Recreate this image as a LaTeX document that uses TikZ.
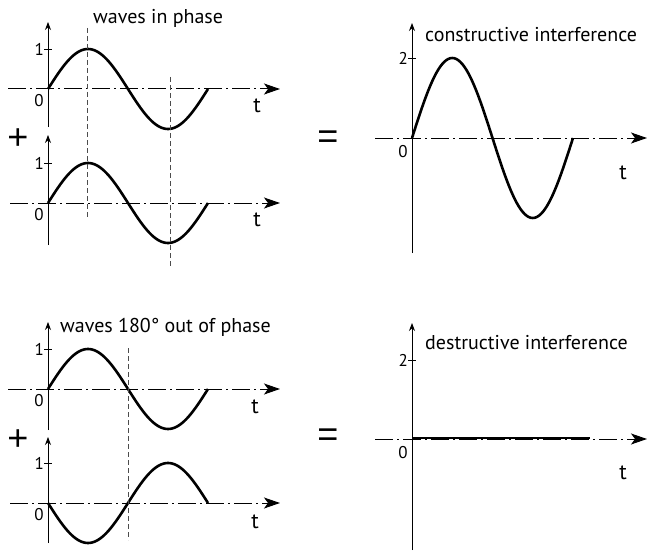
\documentclass[tikz,border=0pt]{standalone}
\usepackage{fontspec}
\setmainfont{PT Sans}
\newfontfamily\opfont{Liberation Sans}
\usetikzlibrary{arrows.meta}
\tikzset{
  haxis/.style={line width=1pt, dash pattern=on 18pt off 4pt on 2pt off 4pt, -{Stealth[length=16pt,width=11pt,inset=4pt]}},
  vaxis/.style={line width=0.8pt, -{Stealth[length=8pt,width=6pt]}},
  wave/.style={line width=2.6pt, line cap=butt},
  guide/.style={line width=0.7pt, dash pattern=on 5pt off 3pt, black!70},
  tick/.style={line width=0.8pt},
  lbl/.style={font=\fontsize{17}{17}\selectfont, inner sep=0pt},
  tlbl/.style={font=\fontsize{22}{22}\selectfont, inner sep=0pt},
  title/.style={font=\fontsize{20}{20}\selectfont, inner sep=0pt, anchor=west},
  op/.style={font=\opfont\fontsize{36}{36}\selectfont, inner sep=0pt},
}
\begin{document}
\begin{tikzpicture}[x=1pt,y=-1pt]
\useasboundingbox (0,0) rectangle (651,551);

% ---------- panel 1 (top-left, upper) ----------
\begin{scope}[shift={(48,89)}]
  \coordinate (a1s) at (-40,0); \coordinate (a1e) at (232,0);
  \coordinate (b1s) at (0,38);  \coordinate (b1e) at (0,-67);
  \coordinate (k1s) at (-4,-40); \coordinate (k1e) at (4,-40);
  \draw[vaxis] (b1s) -- (b1e);
  \draw[haxis] (a1s) -- (a1e);
  \draw[tick] (k1s) -- (k1e);
  \node[lbl, anchor=east] (one1) at (-4,-40) {1};
  \node[lbl] (zero1) at (-9,12) {0};
  \node[tlbl] (t1) at (209,17) {t};
  \draw[wave] plot[domain=0:160,samples=81] (\x,{-40*sin(\x*2.25)});
\end{scope}

% ---------- panel 2 (top-left, lower) ----------
\begin{scope}[shift={(48,203)}]
  \coordinate (a2s) at (-38,0); \coordinate (a2e) at (232,0);
  \coordinate (b2s) at (0,42);  \coordinate (b2e) at (0,-68);
  \coordinate (k2s) at (-4,-40); \coordinate (k2e) at (4,-40);
  \draw[vaxis] (b2s) -- (b2e);
  \draw[haxis] (a2s) -- (a2e);
  \draw[tick] (k2s) -- (k2e);
  \node[lbl, anchor=east] (one2) at (-4,-40) {1};
  \node[lbl] (zero2) at (-9,12) {0};
  \node[tlbl] (t2) at (209,17) {t};
  \draw[wave] plot[domain=0:160,samples=81] (\x,{-40*sin(\x*2.25)});
\end{scope}

% guides, in phase
\coordinate (g1s) at (87,28);  \coordinate (g1e) at (87,218);
\coordinate (g2s) at (170,77); \coordinate (g2e) at (170,267);
\draw[guide] (g1s) -- (g1e);
\draw[guide] (g2s) -- (g2e);

\node[title] (tin) at (93,18) {waves in phase};
\node[op] (plus1) at (18,139) {+};
\node[op] (eq1) at (328,140) {=};

% ---------- panel 3 (constructive) ----------
\begin{scope}[shift={(412,138)}]
  \coordinate (a3s) at (-37,0); \coordinate (a3e) at (235,0);
  \coordinate (b3s) at (0,115);  \coordinate (b3e) at (0,-115);
  \coordinate (k3s) at (-4,-80); \coordinate (k3e) at (4,-80);
  \draw[vaxis] (b3s) -- (b3e);
  \draw[haxis] (a3s) -- (a3e);
  \draw[tick] (k3s) -- (k3e);
  \node[lbl, anchor=east] (two3) at (-4,-80) {2};
  \node[lbl] (zero3) at (-9,14) {0};
  \node[tlbl] (t3) at (211,35) {t};
  \draw[wave] plot[domain=0:161,samples=81] (\x,{-80*sin(\x*2.2360)});
\end{scope}
\node[title] (tcon) at (425,35) {constructive interference};

% ---------- panel 4 (bottom-left, upper) ----------
\begin{scope}[shift={(48,389)}]
  \coordinate (a4s) at (-40,0); \coordinate (a4e) at (232,0);
  \coordinate (b4s) at (0,41);  \coordinate (b4e) at (0,-67);
  \coordinate (k4s) at (-4,-40); \coordinate (k4e) at (4,-40);
  \draw[vaxis] (b4s) -- (b4e);
  \draw[haxis] (a4s) -- (a4e);
  \draw[tick] (k4s) -- (k4e);
  \node[lbl, anchor=east] (one4) at (-4,-40) {1};
  \node[lbl] (zero4) at (-9,12) {0};
  \node[tlbl] (t4) at (207,18) {t};
  \draw[wave] plot[domain=0:160,samples=81] (\x,{-40*sin(\x*2.25)});
\end{scope}

% ---------- panel 5 (bottom-left, lower) ----------
\begin{scope}[shift={(48,503)}]
  \coordinate (a5s) at (-38,0); \coordinate (a5e) at (232,0);
  \coordinate (b5s) at (0,40);  \coordinate (b5e) at (0,-66);
  \coordinate (k5s) at (-4,-40); \coordinate (k5e) at (4,-40);
  \draw[vaxis] (b5s) -- (b5e);
  \draw[haxis] (a5s) -- (a5e);
  \draw[tick] (k5s) -- (k5e);
  \node[lbl, anchor=east] (one5) at (-4,-40) {1};
  \node[lbl] (zero5) at (-9,12) {0};
  \node[tlbl] (t5) at (207,19) {t};
  \draw[wave] plot[domain=0:160,samples=81] (\x,{40*sin(\x*2.25)});
\end{scope}

\coordinate (g3s) at (128,348); \coordinate (g3e) at (128,540);
\draw[guide] (g3s) -- (g3e);

\node[title] (tout) at (60,327) {waves 180° out of phase};
\node[op] (plus2) at (18,440) {+};
\node[op] (eq2) at (328,438) {=};

% ---------- panel 6 (destructive) ----------
\begin{scope}[shift={(412,439)}]
  \coordinate (a6s) at (-37,0); \coordinate (a6e) at (235,0);
  \coordinate (b6s) at (0,111);  \coordinate (b6e) at (0,-116);
  \coordinate (k6s) at (-4,-79); \coordinate (k6e) at (4,-79);
  \coordinate (f6s) at (0,-1); \coordinate (f6e) at (178,-1);
  \draw[vaxis] (b6s) -- (b6e);
  \draw[haxis] (a6s) -- (a6e);
  \draw[tick] (k6s) -- (k6e);
  \node[lbl, anchor=east] (two6) at (-4,-79) {2};
  \node[lbl] (zero6) at (-9,14) {0};
  \node[tlbl] (t6) at (211,34) {t};
  \draw[wave] (f6s) -- (f6e);
\end{scope}
\node[title] (tdes) at (425,343) {destructive interference};

\end{tikzpicture}
\end{document}
